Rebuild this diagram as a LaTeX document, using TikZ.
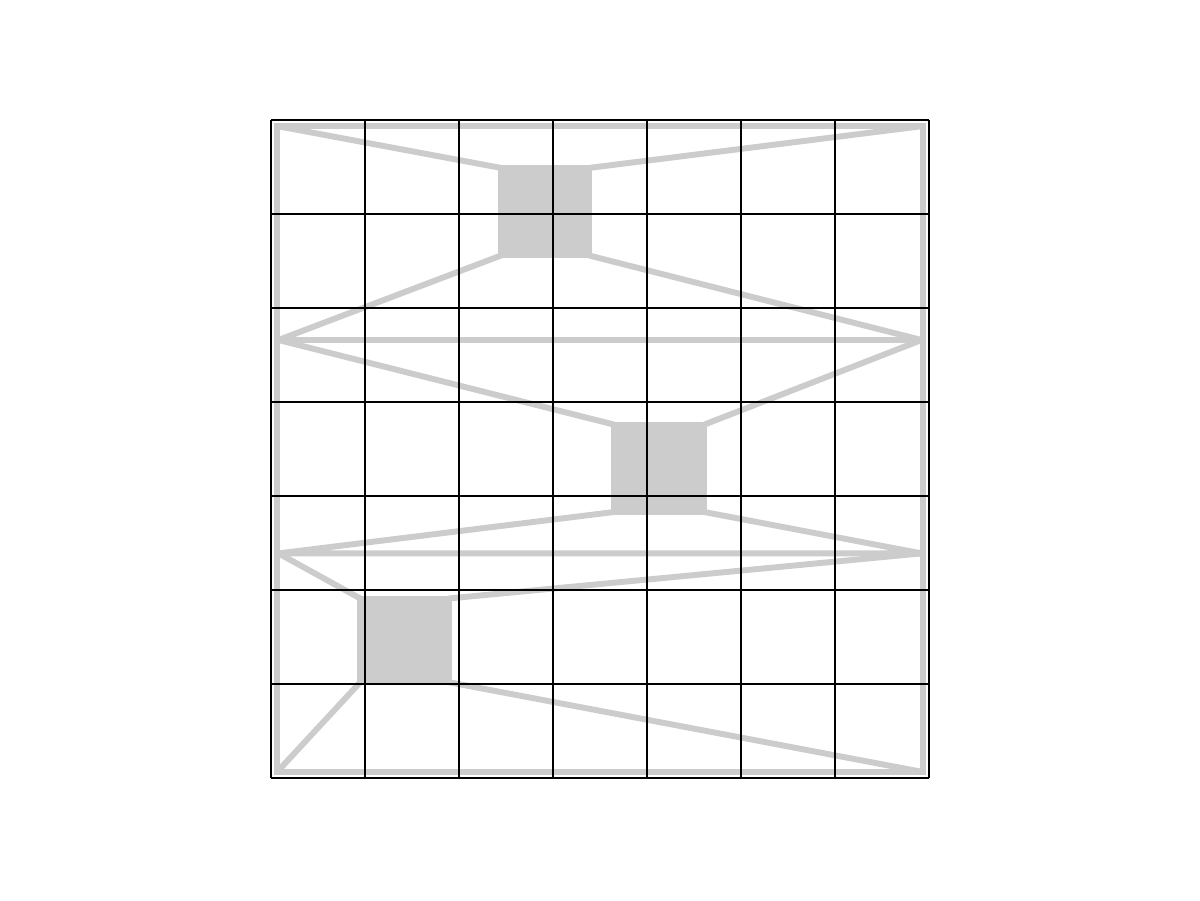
\documentclass[tikz,border=0pt]{standalone}
\begin{document}
\begin{tikzpicture}
    \tikzset{
      band/.style={draw=gray!40, line width=1.8pt},
      patch/.style={band, fill=gray!40},
      fold/.style={band, line join=bevel}
    }
    \useasboundingbox (-2.883,-1.298) rectangle (9.883,8.277);

    % corners and side points
    \coordinate (tl) at (0.064,6.936);
    \coordinate (tr) at (6.936,6.936);
    \coordinate (br) at (6.936,0.064);
    \coordinate (bl) at (0.064,0.064);
    \coordinate (l1) at (0.08,4.66);
    \coordinate (r1) at (6.92,4.66);
    \coordinate (l2) at (0.08,2.39);
    \coordinate (r2) at (6.92,2.39);

    % outer frame
    \draw[band] (tl) rectangle (br);

    % squares
    \draw[patch] (2.45,5.56) coordinate (a1) rectangle (3.38,6.49) coordinate (a3);
    \coordinate (a2) at (3.38,5.56); \coordinate (a4) at (2.45,6.49);
    \draw[patch] (3.65,2.83) coordinate (b1) rectangle (4.61,3.76) coordinate (b3);
    \coordinate (b2) at (4.61,2.83); \coordinate (b4) at (3.65,3.76);
    \draw[patch] (0.95,1.02) coordinate (c1) rectangle (1.89,1.91) coordinate (c3);
    \coordinate (c2) at (1.89,1.02); \coordinate (c4) at (0.95,1.91);

    % first square
    \draw[band] (tl) -- (a4);
    \draw[band] (tr) -- (a3);
    \draw[fold] (a1) -- (l1) -- (r1) -- (a2);

    % second square
    \draw[band] (l1) -- (b4);
    \draw[band] (r1) -- (b3);
    \draw[fold] (b1) -- (l2) -- (r2) -- (b2);

    % third square
    \draw[band] (l2) -- (c4);
    \draw[band] (r2) -- (c3);
    \draw[band] (c1) -- (bl);
    \draw[band] (c2) -- (br);

    %grid
    \draw[step=1,black,thin] (0,0) grid (7,7);
\end{tikzpicture}
\end{document}
